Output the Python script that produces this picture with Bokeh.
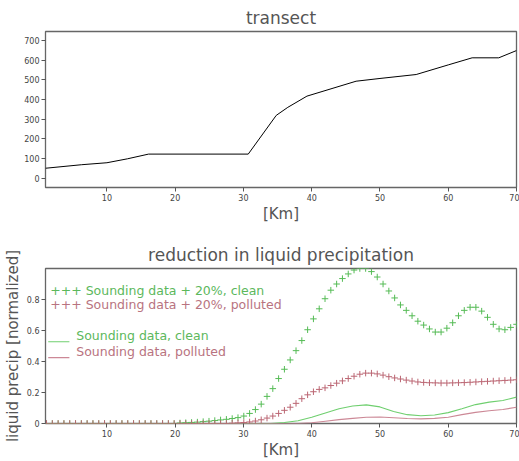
from bokeh.plotting import figure
from bokeh.models import Range1d, FixedTicker, Label, BoxAnnotation
from bokeh.layouts import column
from bokeh.embed import file_html
from bokeh.resources import INLINE

FONT = "DejaVu Sans"

# ---- data: transect (terrain height along the transect) ----
transect_km = [1.0, 6.3, 10.0, 13.0, 16.1, 30.7, 34.8, 36.5, 39.3, 46.5, 50.0, 55.3, 60.0, 63.5, 67.4, 70.0]
transect_h = [50, 68, 78, 98, 122, 122, 319, 360, 417, 493, 507, 527, 576, 612, 612, 649]

# ---- data: model grid points (km) for the "+" series ----
grid_km = [1.15, 2.00, 2.85, 3.70, 4.55, 5.40, 6.25, 7.10, 7.95, 8.80,
           9.65, 10.50, 11.35, 12.20, 13.05, 13.90, 14.75, 15.60, 16.45, 17.30,
           18.15, 19.00, 19.85, 20.70, 21.55, 22.40, 23.25, 24.10, 24.95, 25.80,
           26.65, 27.50, 28.35, 29.20, 30.05, 30.90, 31.75, 32.60, 33.45, 34.30,
           35.15, 36.00, 36.85, 37.70, 38.55, 39.40, 40.25, 41.10, 41.95, 42.80,
           43.65, 44.50, 45.35, 46.20, 47.05, 47.90, 48.75, 49.60, 50.45, 51.30,
           52.15, 53.00, 53.85, 54.70, 55.55, 56.40, 57.25, 58.10, 58.95, 59.80,
           60.65, 61.50, 62.35, 63.20, 64.05, 64.90, 65.75, 66.60, 67.45, 68.30,
           69.15, 70.00]

clean_plus20 = [0.0, 0.0, 0.0, 0.0, 0.0, 0.0, 0.0, 0.0, 0.0, 0.0,
                0.0, 0.0, 0.0, 0.0, 0.0, 0.0, 0.0, 0.0, 0.0, 0.0,
                0.0, 0.0, 0.0, 0.003, 0.005, 0.007, 0.009, 0.012, 0.015, 0.019,
                0.023, 0.027, 0.032, 0.038, 0.048, 0.065, 0.09, 0.125, 0.175, 0.225,
                0.29, 0.35, 0.41, 0.47, 0.535, 0.605, 0.675, 0.74, 0.805, 0.86,
                0.90, 0.935, 0.965, 0.99, 1.0, 1.0, 0.98, 0.945, 0.90, 0.855,
                0.81, 0.765, 0.73, 0.695, 0.66, 0.635, 0.61, 0.59, 0.59, 0.615,
                0.65, 0.695, 0.73, 0.75, 0.75, 0.725, 0.685, 0.64, 0.61, 0.605,
                0.62, 0.64]

polluted_plus20 = [0.0, 0.0, 0.0, 0.0, 0.0, 0.0, 0.0, 0.0, 0.0, 0.0,
                   0.0, 0.0, 0.0, 0.0, 0.0, 0.0, 0.0, 0.0, 0.0, 0.0,
                   0.0, 0.0, 0.0, 0.0, 0.0, 0.0, 0.0, 0.0, 0.0, 0.0,
                   0.0, 0.0, 0.002, 0.004, 0.006, 0.01, 0.016, 0.024, 0.035, 0.048,
                   0.065, 0.085, 0.105, 0.13, 0.16, 0.185, 0.205, 0.22, 0.23, 0.245,
                   0.26, 0.275, 0.29, 0.305, 0.318, 0.325, 0.325, 0.32, 0.312, 0.302,
                   0.294, 0.287, 0.28, 0.274, 0.268, 0.265, 0.263, 0.262, 0.261, 0.261,
                   0.262, 0.263, 0.264, 0.266, 0.268, 0.27, 0.272, 0.274, 0.276, 0.278,
                   0.28, 0.282]

# ---- data: solid-line series ----
line_km = [1, 10, 20, 30, 34, 36, 38, 40, 42, 44, 46, 48, 50, 52, 54, 56, 58, 60, 62, 64, 66, 68, 70]
clean_line = [0, 0, 0, 0, 0, 0.006, 0.018, 0.04, 0.068, 0.095, 0.113, 0.12, 0.107, 0.078,
              0.057, 0.05, 0.055, 0.07, 0.095, 0.122, 0.138, 0.148, 0.17]
polluted_line = [0, 0, 0, 0, 0, 0, 0.0, 0.005, 0.015, 0.025, 0.033, 0.04, 0.042, 0.037,
                 0.032, 0.03, 0.033, 0.04, 0.057, 0.072, 0.082, 0.09, 0.105]

x_ticks = [10, 20, 30, 40, 50, 60, 70]
top_y_ticks = [0, 100, 200, 300, 400, 500, 600, 700]
bot_y_ticks = [0, 0.2, 0.4, 0.6, 0.8]

legend_labels = ["+++ Sounding data + 20%, clean", "+++ Sounding data + 20%, polluted",
                 "Sounding data, clean", "Sounding data, polluted"]

GREEN = "#55bb55"
RED = "#bb6673"
GREEN_TXT = "#5cb85c"
RED_TXT = "#b87380"
GREEN_LINE = "#6fcf6f"
RED_LINE = "#cc8896"
TXT = "#555555"


def style(p):
    p.title.text_font = FONT
    p.title.text_font_size = "17px"
    p.title.text_font_style = "normal"
    p.title.text_color = TXT
    p.title.align = "center"
    p.title.standoff = 8
    p.outline_line_color = "#666666"
    p.outline_line_width = 1.3
    p.xgrid.visible = False
    p.ygrid.visible = False
    p.background_fill_color = "white"
    p.border_fill_color = "white"
    for ax in (p.xaxis, p.yaxis):
        ax.axis_line_color = None
        ax.major_tick_line_color = "#555555"
        ax.major_tick_in = 0
        ax.major_tick_out = 4
        ax.minor_tick_line_color = None
        ax.major_label_text_font = FONT
        ax.major_label_text_font_size = "8px"
        ax.major_label_text_color = "#444444"
        ax.axis_label_text_font = FONT
        ax.axis_label_text_font_style = "normal"
        ax.axis_label_text_color = TXT
    p.xaxis.ticker = FixedTicker(ticks=x_ticks)
    p.xaxis.axis_label = "[Km]"
    p.xaxis.axis_label_text_font_size = "15px"
    p.xaxis.axis_label_standoff = 1
    p.xaxis.major_label_standoff = 2
    p.yaxis.major_label_standoff = 2


# ---------------- top: transect ----------------
p1 = figure(width=519, height=232, output_backend="svg", toolbar_location=None,
            title="transect", x_range=Range1d(1, 70), y_range=Range1d(-48, 746),
            min_border_left=43, min_border_right=3, min_border_top=31, min_border_bottom=45)
style(p1)
p1.yaxis.ticker = FixedTicker(ticks=top_y_ticks)
p1.line(transect_km, transect_h, line_color="black", line_width=1)

# ---------------- bottom: precipitation ----------------
p2 = figure(width=519, height=229, output_backend="svg", toolbar_location=None,
            title="reduction in liquid precipitation", x_range=Range1d(1, 70),
            y_range=Range1d(0, 1.0),
            min_border_left=43, min_border_right=3, min_border_top=36, min_border_bottom=34)
style(p2)
p2.yaxis.ticker = FixedTicker(ticks=bot_y_ticks)
p2.yaxis.major_label_overrides = {0: "0"}
p2.yaxis.axis_label = "liquid precip [normalized]"
p2.yaxis.axis_label_text_font_size = "15px"
p2.yaxis.axis_label_standoff = 2

p2.line(line_km, clean_line, line_color=GREEN_LINE, line_width=1.1)
p2.line(line_km, polluted_line, line_color=RED_LINE, line_width=1.1)
p2.scatter(grid_km, clean_plus20, marker="cross", size=6.5, line_color=GREEN, line_width=1)
p2.scatter(grid_km, polluted_plus20, marker="cross", size=6.5, line_color=RED, line_width=1)

# legend (text + line swatches)
leg_colors = [GREEN_TXT, RED_TXT, GREEN_TXT, RED_TXT]
leg_x = [1.7, 1.7, 5.5, 5.5]
leg_y = [0.86, 0.765, 0.565, 0.462]
for t, c, lx, ly in zip(legend_labels, leg_colors, leg_x, leg_y):
    p2.add_layout(Label(x=lx, y=ly, text=t, text_color=c, text_font=FONT,
                        text_font_size="12.5px", text_baseline="middle"))
for c, ly in zip([GREEN_LINE, RED_LINE], [0.527, 0.425]):
    p2.add_layout(BoxAnnotation(left=1.4, right=4.5, bottom=ly - 0.0035, top=ly + 0.0035,
                                fill_color=c, fill_alpha=1.0, line_color=None))

layout = column(p1, p2, spacing=0)
open("out.html", "w").write(file_html(layout, INLINE))
